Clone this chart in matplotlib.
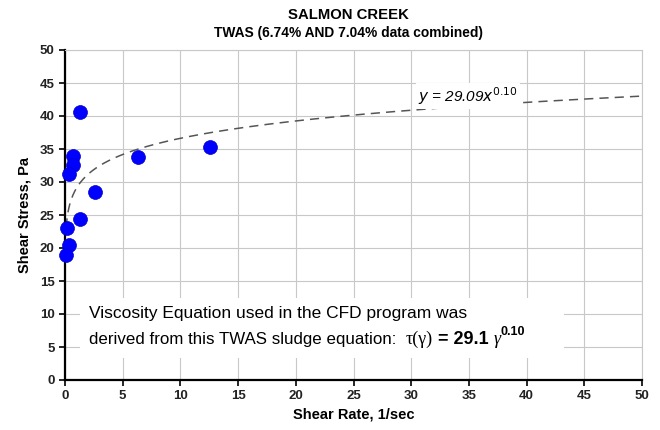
import matplotlib
matplotlib.use("Agg")
import matplotlib.pyplot as plt
import numpy as np
from matplotlib.patches import Rectangle

plt.rcParams['font.family'] = ['Liberation Sans', 'DejaVu Sans']

shear_rate = [1.28, 0.68, 0.68, 0.36, 2.56, 1.28, 0.13, 0.36, 0.10, 6.34, 12.6]
shear_stress = [40.6, 33.9, 32.5, 31.2, 28.5, 24.4, 23.1, 20.5, 18.9, 33.8, 35.3]
fit_a = 29.09
fit_b = 0.10
x_ticks = [0, 5, 10, 15, 20, 25, 30, 35, 40, 45, 50]
y_ticks = [0, 5, 10, 15, 20, 25, 30, 35, 40, 45, 50]

fig = plt.figure(figsize=(6.6, 4.3), dpi=100)
ax = fig.add_axes([65/660, 1 - 380/430, (642-65)/660, (380-50)/430])

ax.set_xlim(0, 50)
ax.set_ylim(0, 50)
ax.set_xticks(x_ticks)
ax.set_yticks(y_ticks)
ax.grid(True, color='#c8c8c8', linewidth=0.8)
ax.set_axisbelow(True)

for s in ['top', 'right']:
    ax.spines[s].set_color('#c8c8c8')
    ax.spines[s].set_linewidth(0.8)
for s in ['left', 'bottom']:
    ax.spines[s].set_color('black')
    ax.spines[s].set_linewidth(1.6)

ax.tick_params(axis='both', direction='out', length=4, width=1.2, labelsize=9.5)
for lab in ax.get_xticklabels() + ax.get_yticklabels():
    lab.set_fontweight('bold')
    lab.set_color('#222222')

xf = np.linspace(0.1, 50, 600)
ax.plot(xf, fit_a * xf ** fit_b, linestyle=(0, (6, 4)), color='#555555', linewidth=1.1, zorder=2)

ax.scatter(shear_rate, shear_stress, s=100, color='#0000ff', edgecolors='#0000cc', linewidths=0.5, zorder=4, clip_on=False)

ax.text(30.6, 43.0, r'$y$ = 29.09$x^{0.10}$', fontsize=11, style='italic', ha='left', va='center',
        bbox=dict(facecolor='white', edgecolor='none', pad=1.5), zorder=3)

ax.add_patch(Rectangle((1.3, 3.3), 41.9, 9.1, facecolor='white', edgecolor='none', zorder=2.5))
ax.text(2.1, 10.15, 'Viscosity Equation used in the CFD program was', fontsize=12.5, ha='left', va='center', zorder=3)
t2 = ax.text(2.1, 6.2, 'derived from this TWAS sludge equation:  ', fontsize=12.2, ha='left', va='center', zorder=3)
p1 = ax.annotate('τ(γ)', xy=(1, 0.5), xycoords=t2, fontsize=13, family=['Liberation Serif'],
                 ha='left', va='center', zorder=3)
p2 = ax.annotate(' = 29.1 ', xy=(1, 0.5), xycoords=p1, fontsize=13, fontweight='bold',
                 ha='left', va='center', zorder=3)
p3 = ax.annotate('γ', xy=(1, 0.45), xycoords=p2, fontsize=13, family=['Liberation Serif'], style='italic',
                 ha='left', va='center', zorder=3)
ax.annotate('0.10', xy=(1, 0.95), xycoords=p3, fontsize=9, fontweight='bold',
            ha='left', va='center', zorder=3)

ax.set_xlabel('Shear Rate, 1/sec', fontsize=10.5, fontweight='bold', labelpad=4)
ax.set_ylabel('Shear Stress, Pa', fontsize=10.5, fontweight='bold', labelpad=6)

fig.text(348/660, 1 - 15/430, 'SALMON CREEK', ha='center', va='center', fontsize=10.7, fontweight='bold')
fig.text(348/660, 1 - 33/430, 'TWAS (6.74% AND 7.04% data combined)', ha='center', va='center', fontsize=9.9, fontweight='bold')

fig.savefig('out.png', dpi=100)
